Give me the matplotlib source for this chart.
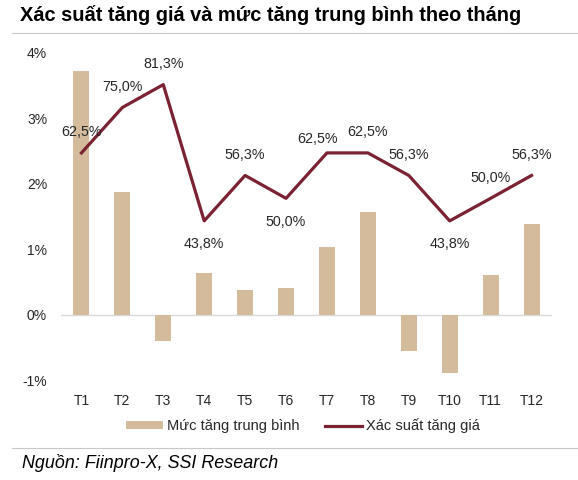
import matplotlib.pyplot as plt
import numpy as np
from matplotlib.lines import Line2D
from matplotlib.patches import Patch

plt.rcParams['font.family'] = ['Liberation Sans', 'DejaVu Sans']

# Data
months = ['T1', 'T2', 'T3', 'T4', 'T5', 'T6', 'T7', 'T8', 'T9', 'T10', 'T11', 'T12']
avg_gain = [3.72, 1.88, -0.40, 0.64, 0.37, 0.40, 1.03, 1.57, -0.55, -0.89, 0.60, 1.38]  # %
prob_up = [62.5, 75.0, 81.3, 43.8, 56.3, 50.0, 62.5, 62.5, 56.3, 43.8, 50.0, 56.3]  # %
prob_labels = ['62,5%', '75,0%', '81,3%', '43,8%', '56,3%', '50,0%',
               '62,5%', '62,5%', '56,3%', '43,8%', '50,0%', '56,3%']

bar_color = '#D3BB9C'
line_color = '#7B2232'
text_color = '#262626'

fig = plt.figure(figsize=(5.78, 4.80), dpi=100)
ax = fig.add_axes([0.1055, 0.2083, 0.8495, 0.6813])
x = np.arange(len(months))

ax.bar(x, avg_gain, width=0.39, color=bar_color, zorder=2)
ax.axhline(0, color='#D9D9D9', lw=1, zorder=1)
ax.set_xlim(-0.5, 11.5)
ax.set_ylim(-1, 4)
ax.set_yticks([-1, 0, 1, 2, 3, 4])
ax.set_yticklabels(['-1%', '0%', '1%', '2%', '3%', '4%'])
ax.set_xticks(x)
ax.set_xticklabels(months)
ax.tick_params(length=0, labelsize=10, colors=text_color)
ax.tick_params(axis='y', pad=10)
ax.tick_params(axis='x', pad=10)
for s in ax.spines.values():
    s.set_visible(False)

ax2 = ax.twinx()
ax2.plot(x, prob_up, color=line_color, lw=2.3, zorder=3)
ax2.set_ylim(0, 90)
ax2.set_yticks([])
for s in ax2.spines.values():
    s.set_visible(False)

# label offsets in points (dx, dy) per point
offsets = [(0, 15), (0, 15), (0, 15), (0, -17), (0, 15), (0, -17),
           (-7, 10), (0, 15), (0, 15), (0, -17), (0, 15), (0, 15)]
for i, (v, lab) in enumerate(zip(prob_up, prob_labels)):
    dx, dy = offsets[i]
    ax2.annotate(lab, (x[i], v), xytext=(dx, dy), textcoords='offset points',
                 ha='center', va='center', fontsize=10.3, color=text_color)

# title, separators, legend, source
fig.text(0.0346, 0.969, 'Xác suất tăng giá và mức tăng trung bình theo tháng',
         fontsize=14.4, fontweight='bold', color='black', va='center', ha='left')
fig.add_artist(Line2D([0.021, 1.0], [0.931, 0.931], color='#C8C8C8', lw=0.8))
fig.add_artist(Line2D([0.021, 1.0], [0.0667, 0.0667], color='#C8C8C8', lw=0.8))

handles = [Patch(facecolor=bar_color, edgecolor='none', label='Mức tăng trung bình'),
           Line2D([0], [0], color=line_color, lw=2.3, label='Xác suất tăng giá')]
fig.legend(handles=handles, loc='center', bbox_to_anchor=(0.524, 0.1125), ncol=2,
           frameon=False, fontsize=10.5, handlelength=2.55, handleheight=0.45,
           handletextpad=0.25, columnspacing=1.8, labelcolor=text_color)

fig.text(0.038, 0.0354, 'Nguồn: Fiinpro-X, SSI Research', fontsize=12.9,
         style='italic', color='black', va='center', ha='left')

fig.savefig('out.png', dpi=100)
